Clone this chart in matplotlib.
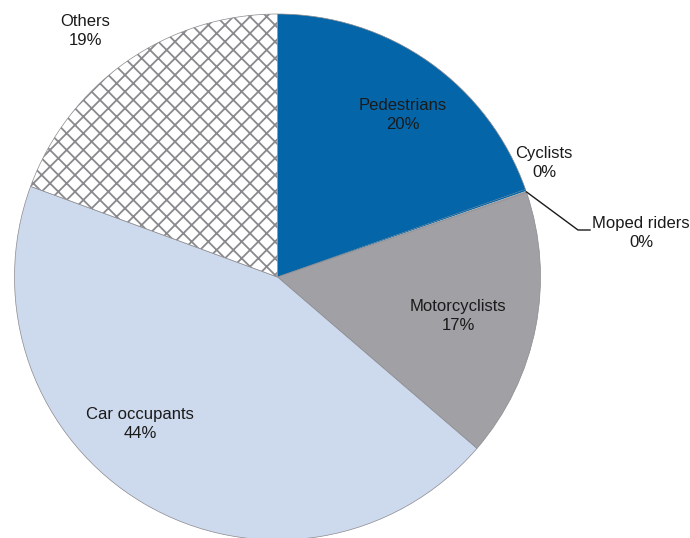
import matplotlib.pyplot as plt
import numpy as np

plt.rcParams['font.family'] = ['Liberation Sans', 'DejaVu Sans']
plt.rcParams['hatch.color'] = '#4a4a50'
plt.rcParams['hatch.linewidth'] = 1.3

categories = ["Pedestrians", "Cyclists", "Moped riders", "Motorcyclists", "Car occupants", "Others"]
shares = [19.6, 0.1, 0.1, 16.5, 44.3, 19.4]
shown = ["20%", "0%", "0%", "17%", "44%", "19%"]
colors = ["#0466a8", "#0466a8", "#a1a1a5", "#a1a1a5", "#cdd9ec", "white"]

fig = plt.figure(figsize=(6.9, 5.38), dpi=100)
ax = fig.add_axes([0, 0, 1, 1])

cx, cy, r = 277.5, 538 - 277, 263
wedges, _ = ax.pie(shares, colors=colors, startangle=90, counterclock=False,
                   center=(cx, cy), radius=r,
                   wedgeprops=dict(edgecolor='#8a8a8e', linewidth=0.5))
wedges[-1].set_hatch('xx')
for w in wedges[1:3]:
    w.set_edgecolor('none')
ax.set_xlim(0, 690)
ax.set_ylim(0, 538)
ax.set_aspect('equal')
ax.axis('off')

fs = 12
# labels placed inside / near the slices
pos = {
    "Pedestrians": (403, 115),
    "Motorcyclists": (458, 316),
    "Car occupants": (140, 424),
    "Others": (85, 31),
    "Cyclists": (544, 163),
}
for name, lab in zip(categories, shown):
    if name in pos:
        x, y = pos[name]
        ax.text(x, 538 - y, f"{name}\n{lab}", ha='center', va='center',
                fontsize=fs, color='#1a1a1a', linespacing=1.35)

# leader line for the moped riders slice
w = wedges[2]
ang = np.deg2rad((w.theta1 + w.theta2) / 2)
sx, sy = cx + r * np.cos(ang), cy + r * np.sin(ang)
ax.plot([sx, 578, 590], [sy, 538 - 230, 538 - 230], color='#1a1a1a', lw=1.0)
ax.text(641, 538 - 233, "Moped riders\n0%", ha='center', va='center',
        fontsize=fs, color='#1a1a1a', linespacing=1.35)

fig.savefig("out.png", dpi=100)
